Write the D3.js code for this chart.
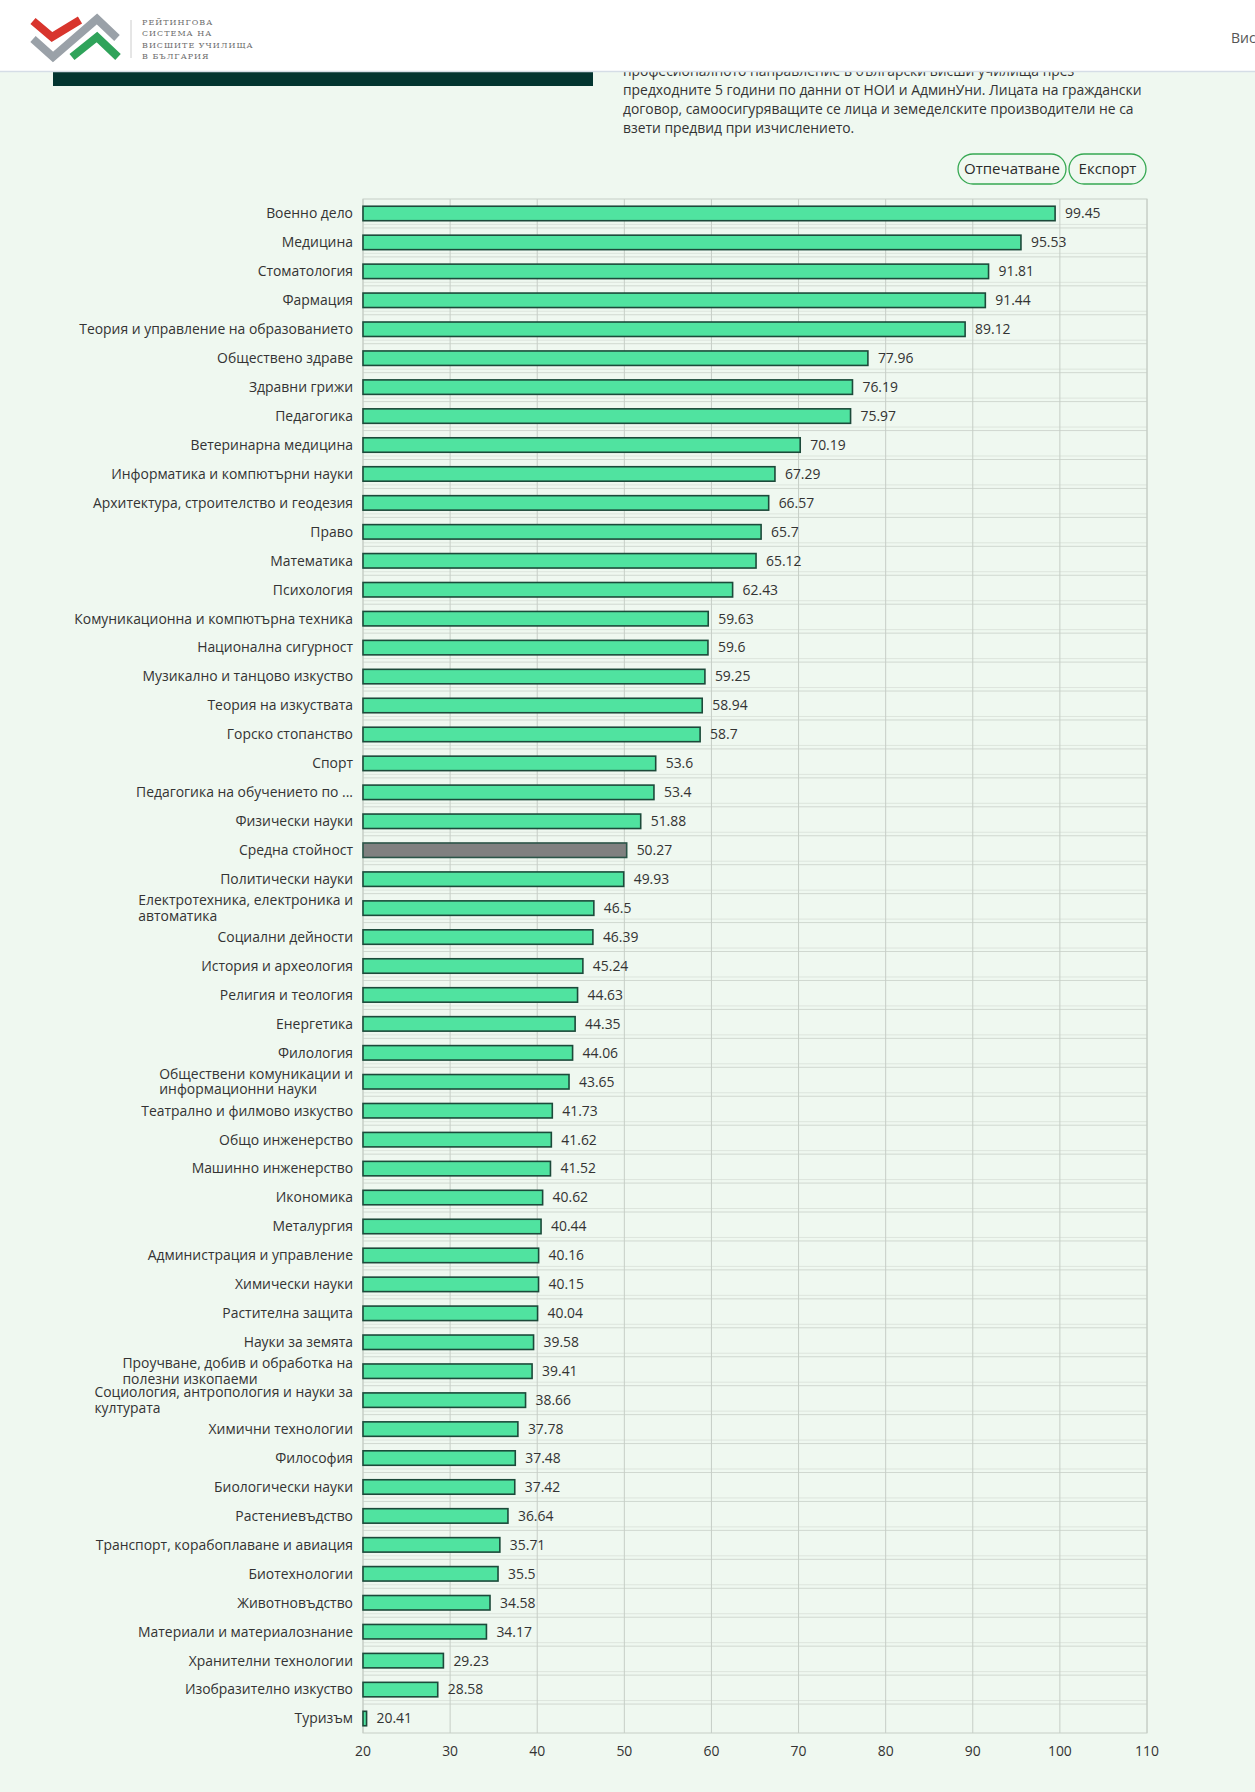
<!DOCTYPE html>
<html>
<head>
<meta charset="utf-8">
<script src="https://cdn.jsdelivr.net/npm/d3@7"></script>
<style>
  body { margin: 0; background: #eff8f0; }
  svg { display: block; }
</style>
</head>
<body>
<div id="chart"></div>
<script>
const W = 1255, H = 1792;

// data
const categories = [
  "Военно дело", "Медицина", "Стоматология", "Фармация",
  "Теория и управление на образованието", "Обществено здраве", "Здравни грижи",
  "Педагогика", "Ветеринарна медицина", "Информатика и компютърни науки",
  "Архитектура, строителство и геодезия", "Право", "Математика", "Психология",
  "Комуникационна и компютърна техника", "Национална сигурност",
  "Музикално и танцово изкуство", "Теория на изкуствата", "Горско стопанство",
  "Спорт", "Педагогика на обучението по ...", "Физически науки", "Средна стойност",
  "Политически науки", "Електротехника, електроника и автоматика",
  "Социални дейности", "История и археология", "Религия и теология", "Енергетика",
  "Филология", "Обществени комуникации и информационни науки",
  "Театрално и филмово изкуство", "Общо инженерство", "Машинно инженерство",
  "Икономика", "Металургия", "Администрация и управление", "Химически науки",
  "Растителна защита", "Науки за земята",
  "Проучване, добив и обработка на полезни изкопаеми",
  "Социология, антропология и науки за културата", "Химични технологии",
  "Философия", "Биологически науки", "Растениевъдство",
  "Транспорт, корабоплаване и авиация", "Биотехнологии", "Животновъдство",
  "Материали и материалознание", "Хранителни технологии",
  "Изобразително изкуство", "Туризъм"
];
const values = [
  99.45, 95.53, 91.81, 91.44, 89.12, 77.96, 76.19, 75.97, 70.19, 67.29,
  66.57, 65.7, 65.12, 62.43, 59.63, 59.6, 59.25, 58.94, 58.7, 53.6,
  53.4, 51.88, 50.27, 49.93, 46.5, 46.39, 45.24, 44.63, 44.35, 44.06,
  43.65, 41.73, 41.62, 41.52, 40.62, 40.44, 40.16, 40.15, 40.04, 39.58,
  39.41, 38.66, 37.78, 37.48, 37.42, 36.64, 35.71, 35.5, 34.58, 34.17,
  29.23, 28.58, 20.41
];
const averageLabel = "Средна стойност";
const xTicks = [20, 30, 40, 50, 60, 70, 80, 90, 100, 110];

const noteLines = [
  "професионалното направление в български висши училища през",
  "предходните 5 години по данни от НОИ и АдминУни. Лицата на граждански",
  "договор, самоосигуряващите се лица и земеделските производители не са",
  "взети предвид при изчислението."
];
const logoLines = ["РЕЙТИНГОВА", "СИСТЕМА НА", "ВИСШИТЕ УЧИЛИЩА", "В БЪЛГАРИЯ"];

const font = "'Open Sans', 'Noto Sans', sans-serif";
const textColor = "#333";

var svg = d3.select("#chart").append("svg")
    .attr("width", W)
    .attr("height", H);

svg.append("rect").attr("width", W).attr("height", H).attr("fill", "#eff8f0");

// measure once so the fallback font spans the same width as the original one
var probe = svg.append("text").attr("font-family", font).attr("font-size", 13)
    .text("Теория и управление на образованието");
var k = 274 / probe.node().getComputedTextLength();
probe.remove();
const labelSize = 13 * k;

var margin = {top: 199, right: W - 1147, bottom: H - 1733, left: 363};

var x = d3.scaleLinear().domain([20, 110]).range([margin.left, W - margin.right]);
var y = d3.scaleBand().domain(categories).range([margin.top, H - margin.bottom]);
var bh = y.bandwidth() * 0.5;

var plot = svg.append("g");

// horizontal band lines (two faint lines per boundary)
plot.append("g").selectAll("line")
    .data(categories.slice(1))
    .join("line")
    .attr("x1", x(20)).attr("x2", x(110))
    .attr("y1", d => y(d) - 3.5).attr("y2", d => y(d) - 3.5)
    .attr("stroke", "#dde5dd").attr("stroke-width", 1);

plot.append("g").selectAll("line")
    .data(categories.slice(1))
    .join("line")
    .attr("x1", x(20)).attr("x2", x(110))
    .attr("y1", d => y(d)).attr("y2", d => y(d))
    .attr("stroke", "#d0d8d0").attr("stroke-width", 1);

// vertical grid
plot.append("g").selectAll("line")
    .data(xTicks)
    .join("line")
    .attr("x1", d => x(d)).attr("x2", d => x(d))
    .attr("y1", margin.top).attr("y2", H - margin.bottom)
    .attr("stroke", "#c6cec6").attr("stroke-width", 1);

plot.append("rect")
    .attr("x", x(20)).attr("y", margin.top)
    .attr("width", x(110) - x(20)).attr("height", H - margin.bottom - margin.top)
    .attr("fill", "none").attr("stroke", "#c6cec6");

// bars
plot.append("g").selectAll("rect")
    .data(values)
    .join("rect")
    .attr("x", x(20))
    .attr("y", (d, i) => y(categories[i]) + (y.bandwidth() - bh) / 2)
    .attr("width", d => x(d) - x(20))
    .attr("height", bh)
    .attr("fill", (d, i) => categories[i] == averageLabel ? "#808080" : "#50e3a0")
    .attr("stroke", (d, i) => categories[i] == averageLabel ? "#2b5448" : "#1c4a3a")
    .attr("stroke-width", 1.6);

// value labels
plot.append("g").selectAll("text")
    .data(values)
    .join("text")
    .attr("x", d => x(d) + 10)
    .attr("y", (d, i) => y(categories[i]) + y.bandwidth() / 2)
    .attr("dy", "0.35em")
    .attr("font-family", font)
    .attr("font-size", labelSize)
    .attr("fill", textColor)
    .text(d => d);

// category labels, wrapped and left aligned inside a right-aligned block
var maxLabel = 284;
var labels = svg.append("g").attr("font-family", font).attr("font-size", labelSize).attr("fill", textColor);

categories.forEach(function (c, i) {
    var words = c.split(" "), lines = [], cur = "";
    var t = labels.append("text");
    words.forEach(function (w) {
        var test = cur ? cur + " " + w : w;
        t.text(test);
        if (t.node().getComputedTextLength() > maxLabel && cur) {
            lines.push(cur);
            cur = w;
        } else {
            cur = test;
        }
    });
    lines.push(cur);
    t.text(null);
    var right = x(20) - 10;
    var cy = y(c) + y.bandwidth() / 2;
    if (lines.length == 1) {
        t.attr("x", right).attr("y", cy).attr("dy", "0.35em")
            .attr("text-anchor", "end").text(lines[0]);
    } else {
        var probeW = d3.max(lines, function (l) {
            t.text(l);
            return t.node().getComputedTextLength();
        });
        t.text(null);
        var lh = 15.5;
        lines.forEach(function (l, j) {
            t.append("tspan")
                .attr("x", right - probeW)
                .attr("y", cy + (j - (lines.length - 1) / 2) * lh)
                .attr("dy", "0.35em")
                .text(l);
        });
    }
});

// x tick labels
svg.append("g").selectAll("text")
    .data(xTicks)
    .join("text")
    .attr("x", d => x(d))
    .attr("y", 1751)
    .attr("dy", "0.35em")
    .attr("text-anchor", "middle")
    .attr("font-family", font)
    .attr("font-size", labelSize)
    .attr("fill", textColor)
    .text(d => d);

// buttons
var buttons = [
    {label: "Отпечатване", x0: 958, x1: 1066},
    {label: "Експорт", x0: 1069, x1: 1146}
];
var btn = svg.append("g").selectAll("g").data(buttons).join("g");
btn.append("rect")
    .attr("x", d => d.x0).attr("y", 154)
    .attr("width", d => d.x1 - d.x0).attr("height", 30)
    .attr("rx", 15)
    .attr("fill", "#eff8f0").attr("stroke", "#36a852").attr("stroke-width", 1.3);
btn.append("text")
    .attr("x", d => (d.x0 + d.x1) / 2).attr("y", 169)
    .attr("dy", "0.35em").attr("text-anchor", "middle")
    .attr("font-family", font).attr("font-size", labelSize * 1.08)
    .attr("fill", "#2b2b2b")
    .text(d => d.label);

// note text (first line partly hidden under the header)
var note = svg.append("g").attr("font-family", font).attr("fill", textColor);
var nt = note.append("text").attr("font-size", 13).text(noteLines[1]);
var noteSize = 13 * 519 / nt.node().getComputedTextLength();
nt.remove();
note.selectAll("text")
    .data(noteLines)
    .join("text")
    .attr("x", 623)
    .attr("y", (d, i) => 71 + i * 19)
    .attr("dy", "0.35em")
    .attr("font-size", noteSize)
    .text(d => d);

// dark title block edge
svg.append("rect").attr("x", 53).attr("y", 60).attr("width", 540).attr("height", 26).attr("fill", "#033530");

// header
var header = svg.append("g");
header.append("rect").attr("width", W).attr("height", 71).attr("fill", "#fff");
header.append("line").attr("x1", 0).attr("x2", W).attr("y1", 71.5).attr("y2", 71.5)
    .attr("stroke", "#d5dde6").attr("stroke-width", 1.5);

// logo
var strokes = [
    {pts: [[33, 39], [53, 57], [97, 19], [117, 38]], c: "#9aa1a8"},
    {pts: [[33, 21], [52, 37], [80, 20]], c: "#d8352d"},
    {pts: [[72, 57], [97, 37], [118, 57]], c: "#2fa35a"}
];
header.selectAll("path.logo")
    .data(strokes)
    .join("path")
    .attr("class", "logo")
    .attr("d", d => d3.line()(d.pts))
    .attr("fill", "none")
    .attr("stroke", d => d.c)
    .attr("stroke-width", 8)
    .attr("stroke-linejoin", "miter");
header.append("line").attr("x1", 131).attr("x2", 131).attr("y1", 20).attr("y2", 58)
    .attr("stroke", "#ccc");
header.selectAll("text.logo")
    .data(logoLines)
    .join("text")
    .attr("class", "logo")
    .attr("x", 142)
    .attr("y", (d, i) => 22 + i * 11.5)
    .attr("dy", "0.35em")
    .attr("font-family", "'DejaVu Serif', serif")
    .attr("font-size", 8)
    .attr("letter-spacing", 1)
    .attr("fill", "#6d6d6d")
    .text(d => d);

// navigation item, only its first letters are inside the window
header.append("text")
    .attr("x", 1231).attr("y", 38).attr("dy", "0.35em")
    .attr("font-family", font).attr("font-size", 14)
    .attr("fill", "#555")
    .text("Вис");
</script>
</body>
</html>
